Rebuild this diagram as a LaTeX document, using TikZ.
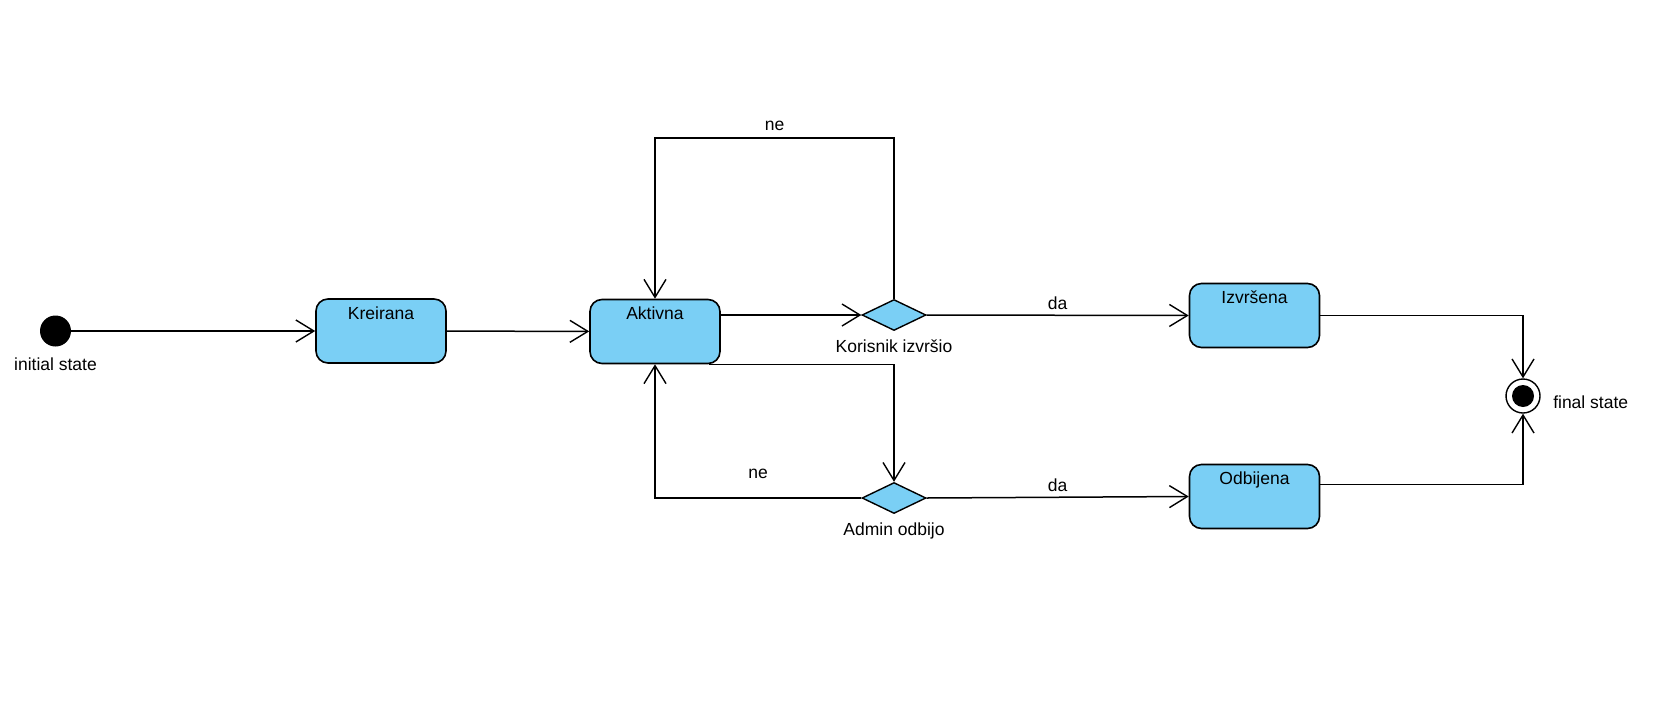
\documentclass[tikz,border=0pt]{standalone}
\usepackage{fontspec}
\setmainfont{Liberation Sans}
\usetikzlibrary{arrows.meta,shapes.geometric}

\definecolor{stateblue}{RGB}{122,207,245}

\tikzset{
  state/.style={draw, line width=1.6pt, fill=stateblue, rounded corners=12pt,
    minimum width=130pt, minimum height=64pt,
    label={[anchor=base, yshift=-21pt]north:#1}},
  choice/.style={draw, diamond, aspect=2, line width=1.4pt, fill=stateblue,
    minimum width=64pt, minimum height=31pt, inner sep=0pt,
    label={[anchor=base, yshift=-21pt]south:#1}},
  trans/.style={line width=1.5pt, -{Straight Barb[length=18pt, width=22pt, line width=1.4pt]}},
  lbl/.style={anchor=base, pos=#1},
}

\begin{document}
\begin{tikzpicture}[x=1pt, y=-1pt, font=\fontsize{17.5}{21}\selectfont]
\useasboundingbox (0,0) rectangle (1661,707);

\path (55.5, 331) node[circle, fill=black, minimum size=31pt, inner sep=0pt,
        label={[anchor=base, yshift=-23.5pt]south:initial state}] (init){}
      (381, 331) node[state=Kreirana] (kre){}
      (655, 331.5) node[state=Aktivna] (akt){}
      (894, 315) node[choice=Korisnik izvršio] (kor){}
      (894, 498) node[choice=Admin odbijo] (adm){}
      (1254.5, 315.5) node[state=Izvršena] (izv){}
      (1254.5, 496.5) node[state=Odbijena] (odb){}
      (1523, 396) node[draw, circle, line width=1.4pt, fill=white, minimum size=34pt, inner sep=0pt,
        label={[anchor=base west, xshift=9pt, yshift=-12.7pt]east:final state}] (fin){};
\fill (fin.center) circle (11pt);

\draw[trans] (init) -- (kre);
\draw[trans] (kre) -- (akt);
\draw[trans] (akt.east |- kor.west) -- (kor.west);
\draw[trans] (kor.north) -- ++(0,-161) -| node[lbl=0.25, yshift=7.3pt] {ne} (akt.north);
\draw[trans] ([xshift=-12pt]akt.south east) -| (adm.north);
\draw[trans] (adm.west) -| node[lbl=0.25, yshift=20pt] {ne} (akt.south);
\draw[trans] (kor.east) -- node[lbl=0.5, yshift=6pt] {da} (izv.west);
\draw[trans] (adm.east) -- node[lbl=0.5, yshift=6pt] {da} (odb.west);
\draw[trans] (izv.east) -| (fin.north);
\draw[trans] ([yshift=12pt]odb.east) -| (fin.south);
\end{tikzpicture}
\end{document}
